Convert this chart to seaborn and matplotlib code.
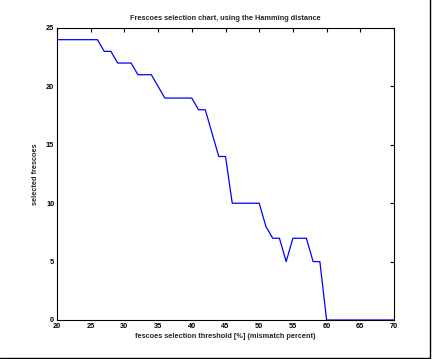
import matplotlib
matplotlib.use("Agg")
import matplotlib.pyplot as plt
import seaborn as sns
import pandas as pd

threshold = list(range(20, 71))
selected = [24, 24, 24, 24, 24, 24, 24, 23, 23, 22,
            22, 22, 21, 21, 21, 20, 19, 19, 19, 19,
            19, 18, 18, 16, 14, 14, 10, 10, 10, 10,
            10, 8, 7, 7, 5, 7, 7, 7, 5, 5,
            0, 0, 0, 0, 0, 0, 0, 0, 0, 0,
            0]
xticks = [20, 25, 30, 35, 40, 45, 50, 55, 60, 65, 70]
yticks = [0, 5, 10, 15, 20, 25]

sns.set_style("white")
plt.rcParams['font.family'] = ['Liberation Sans', 'DejaVu Sans']
plt.rcParams['font.weight'] = 'bold'
plt.rcParams['xtick.direction'] = 'in'
plt.rcParams['ytick.direction'] = 'in'

df = pd.DataFrame({"threshold": threshold, "selected": selected})

fig = plt.figure(figsize=(4.35, 3.59), dpi=100)
ax = fig.add_axes([57/435, 1 - 320/359, (394-57)/435, (320-28)/359])
sns.lineplot(data=df, x="threshold", y="selected", ax=ax, color=(0, 0, 1), linewidth=0.9)

ax.set_xlim(20, 70)
ax.set_ylim(0, 25)
ax.set_xticks(xticks)
ax.set_yticks(yticks)
ax.tick_params(axis='both', which='both', labelsize=5.3, length=3, width=0.8,
               top=True, right=True, direction='in', pad=2, colors='black')
for s in ax.spines.values():
    s.set_visible(True)
    s.set_color('black')
    s.set_linewidth(0.8)

ax.set_title("Frescoes selection chart, using the Hamming distance", fontsize=5.3,
             fontweight='bold', pad=6)
ax.set_xlabel("fescoes selection threshold [%] (mismatch percent)", fontsize=5.3,
              fontweight='bold', labelpad=2)
ax.set_ylabel("selected frescoes", fontsize=5.3, fontweight='bold', labelpad=5)

# figure frame lines (right and bottom)
fig.add_artist(plt.Line2D([430/435, 430/435], [1 - 358/359, 1.0], color='black', linewidth=1.0))
fig.add_artist(plt.Line2D([0, 430/435], [1 - 358/359, 1 - 358/359], color='black', linewidth=1.0))

fig.savefig("out.png", dpi=100)
